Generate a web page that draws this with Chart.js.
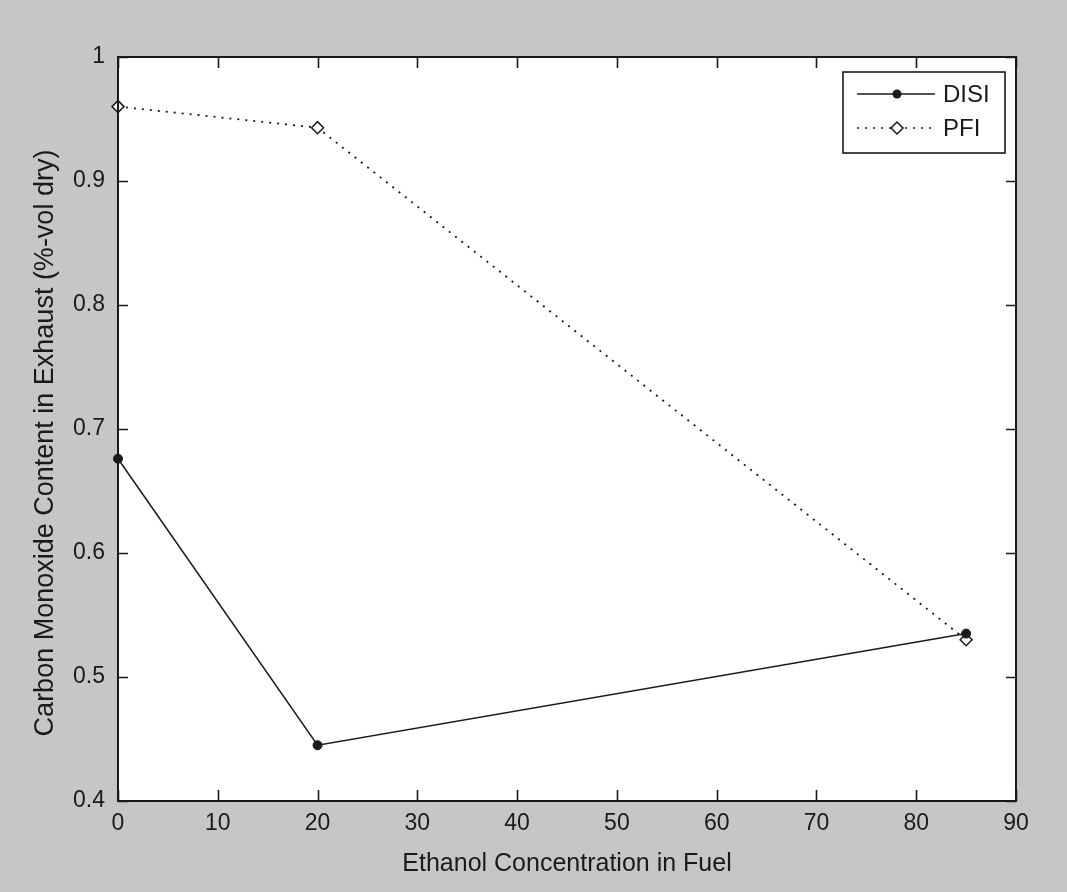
<!DOCTYPE html>
<html>
<head>
<meta charset="utf-8">
<script src="https://cdn.jsdelivr.net/npm/chart.js@4/dist/chart.umd.min.js"></script>
<style>
  html, body { margin: 0; padding: 0; background: #c6c6c6; }
  #wrap { width: 1067px; height: 892px; }
</style>
</head>
<body>
<div id="wrap"><canvas id="c" width="1067" height="892"></canvas></div>
<script>
const ethanol = [0, 20, 85];
const disiValues = [0.676, 0.445, 0.535];
const pfiValues = [0.96, 0.943, 0.53];
const xTickValues = [0, 10, 20, 30, 40, 50, 60, 70, 80, 90];
const yTickValues = [0.4, 0.5, 0.6, 0.7, 0.8, 0.9, 1];
const seriesNames = ['DISI', 'PFI'];
const xTitle = 'Ethanol Concentration in Fuel';
const yTitle = 'Carbon Monoxide Content in Exhaust (%-vol dry)';

const FONT = '"Liberation Sans", Arial, sans-serif';
const INK = '#1a1a1a';

const bgPlugin = {
  id: 'bg',
  beforeDraw(chart) {
    const {ctx, chartArea: a} = chart;
    ctx.save();
    ctx.fillStyle = '#c6c6c6';
    ctx.fillRect(0, 0, chart.width, chart.height);
    ctx.fillStyle = '#ffffff';
    ctx.fillRect(a.left, a.top, a.right - a.left, a.bottom - a.top);
    ctx.restore();
  }
};

const framePlugin = {
  id: 'frame',
  afterDraw(chart) {
    const {ctx, chartArea: a, scales} = chart;
    ctx.save();
    ctx.strokeStyle = INK;
    ctx.lineWidth = 2;
    ctx.strokeRect(a.left, a.top, a.right - a.left, a.bottom - a.top);
    ctx.lineWidth = 1.6;
    ctx.beginPath();
    xTickValues.forEach(v => {
      const px = Math.round(scales.x.getPixelForValue(v)) + 0.5;
      ctx.moveTo(px, a.bottom); ctx.lineTo(px, a.bottom - 11);
      ctx.moveTo(px, a.top); ctx.lineTo(px, a.top + 11);
    });
    yTickValues.forEach(v => {
      const py = Math.round(scales.y.getPixelForValue(v)) + 0.5;
      ctx.moveTo(a.left, py); ctx.lineTo(a.left + 10, py);
      ctx.moveTo(a.right, py); ctx.lineTo(a.right - 10, py);
    });
    ctx.stroke();

    // y-axis title (rotated)
    ctx.save();
    ctx.translate(46, 443);
    ctx.rotate(-Math.PI / 2);
    ctx.fillStyle = INK;
    ctx.font = '27px ' + FONT;
    ctx.textAlign = 'center';
    ctx.textBaseline = 'middle';
    ctx.fillText(yTitle, 0, 0);
    ctx.restore();

    // legend
    const bx = 843, by = 72, bw = 162, bh = 81;
    ctx.fillStyle = '#ffffff';
    ctx.fillRect(bx, by, bw, bh);
    ctx.lineWidth = 1.6;
    ctx.strokeStyle = INK;
    ctx.strokeRect(bx, by, bw, bh);
    const rows = [by + 22, by + 56];
    chart.data.datasets.forEach((ds, i) => {
      const y = rows[i];
      ctx.save();
      ctx.strokeStyle = INK;
      ctx.lineWidth = 1.5;
      ctx.setLineDash(ds.borderDash || []);
      ctx.beginPath();
      ctx.moveTo(bx + 14, y); ctx.lineTo(bx + 92, y);
      ctx.stroke();
      ctx.setLineDash([]);
      const mx = bx + 54;
      if (i === 0) {
        ctx.fillStyle = INK;
        ctx.beginPath(); ctx.arc(mx, y, 4.5, 0, Math.PI * 2); ctx.fill();
      } else {
        ctx.fillStyle = '#fff';
        ctx.beginPath();
        ctx.moveTo(mx, y - 6); ctx.lineTo(mx + 6, y); ctx.lineTo(mx, y + 6); ctx.lineTo(mx - 6, y);
        ctx.closePath(); ctx.fill(); ctx.stroke();
      }
      ctx.restore();
      ctx.fillStyle = INK;
      ctx.font = '24px ' + FONT;
      ctx.textBaseline = 'middle';
      ctx.textAlign = 'left';
      ctx.fillText(ds.label, bx + 100, y + 1);
    });
    ctx.restore();
  }
};

new Chart(document.getElementById('c'), {
  type: 'line',
  data: {
    datasets: [
      {
        label: seriesNames[0],
        data: ethanol.map((x, i) => ({x, y: disiValues[i]})),
        borderColor: INK,
        borderWidth: 1.5,
        pointStyle: 'circle',
        pointRadius: 4.5,
        pointBackgroundColor: INK,
        pointBorderColor: INK,
        pointBorderWidth: 1,
        tension: 0,
        fill: false
      },
      {
        label: seriesNames[1],
        data: ethanol.map((x, i) => ({x, y: pfiValues[i]})),
        borderColor: INK,
        borderWidth: 1.8,
        borderDash: [2, 6],
        pointStyle: 'rectRot',
        pointRadius: 6,
        pointBackgroundColor: '#ffffff',
        pointBorderColor: INK,
        pointBorderWidth: 1.5,
        tension: 0,
        fill: false
      }
    ]
  },
  options: {
    responsive: false,
    animation: false,
    devicePixelRatio: 1,
    clip: false,
    layout: { padding: { top: 57, right: 51, left: 0, bottom: 0 } },
    plugins: {
      legend: { display: false },
      tooltip: { enabled: false }
    },
    scales: {
      x: {
        type: 'linear',
        min: 0, max: 90,
        afterBuildTicks(scale) { scale.ticks = xTickValues.map(v => ({value: v})); },
        afterFit(scale) { scale.height = 91; },
        grid: { display: false, drawTicks: false },
        border: { display: false },
        ticks: {
          padding: 9,
          color: INK,
          font: { family: FONT, size: 23 },
          callback: v => String(v),
          maxRotation: 0, autoSkip: false
        },
        title: {
          display: true,
          text: xTitle,
          color: INK,
          font: { family: FONT, size: 25 },
          padding: { top: 0, bottom: 13 }
        }
      },
      y: {
        type: 'linear',
        min: 0.4, max: 1,
        afterBuildTicks(scale) { scale.ticks = yTickValues.map(v => ({value: v})); },
        afterFit(scale) { scale.width = 118; },
        grid: { display: false, drawTicks: false },
        border: { display: false },
        ticks: {
          padding: 13,
          color: INK,
          font: { family: FONT, size: 23 },
          callback: v => String(Math.round(v * 10) / 10),
          autoSkip: false
        },
        title: { display: false, text: yTitle }
      }
    }
  },
  plugins: [bgPlugin, framePlugin]
});
</script>
</body>
</html>
